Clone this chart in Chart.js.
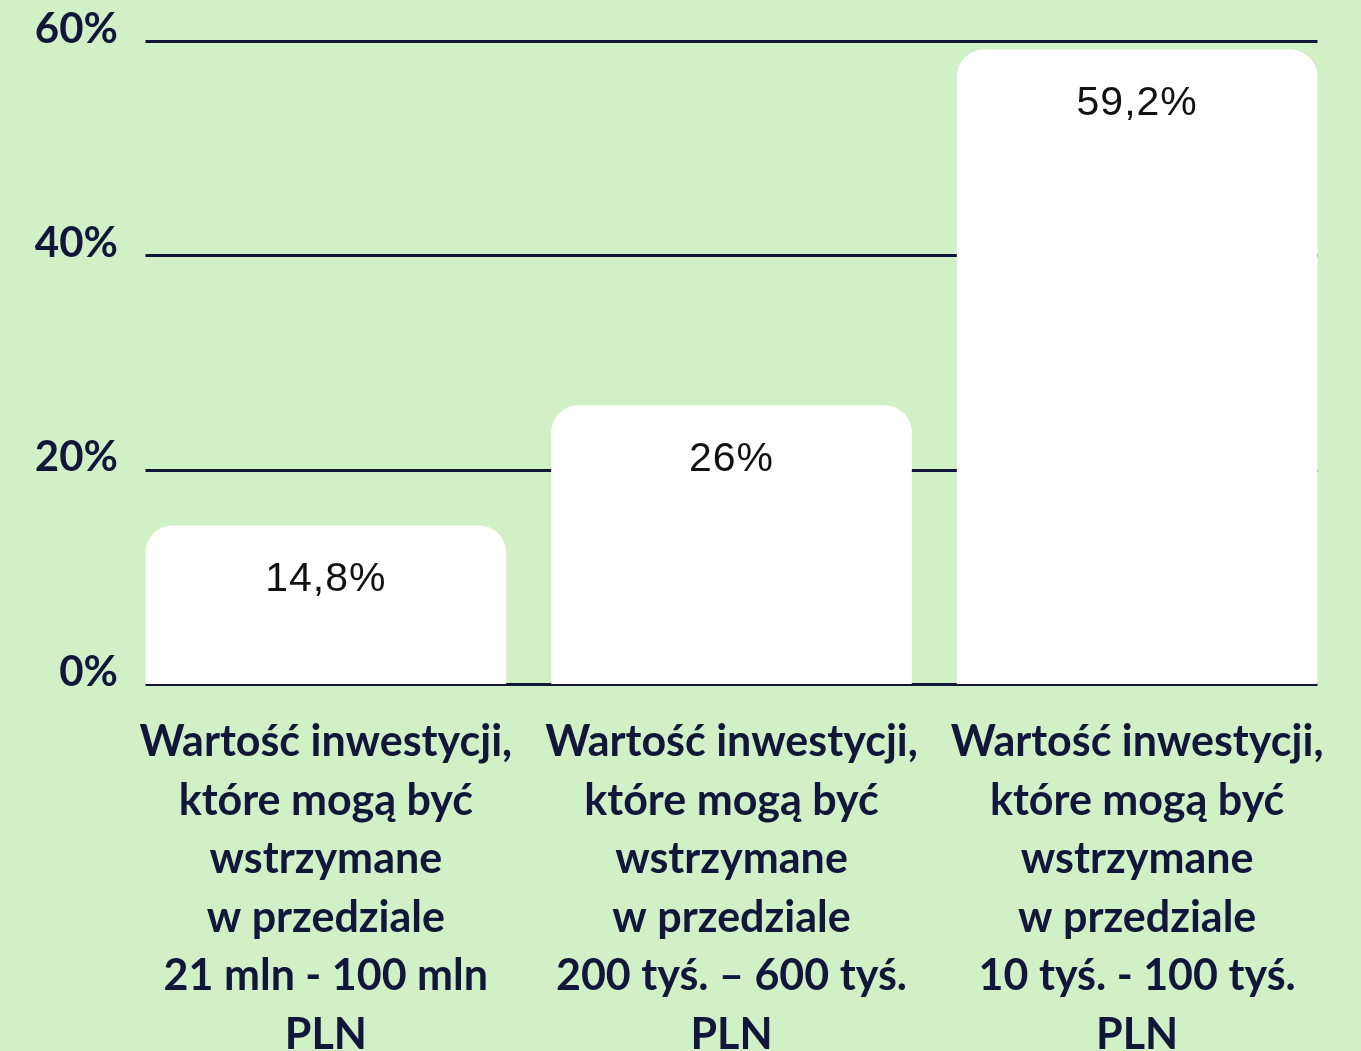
<!DOCTYPE html>
<html>
<head>
<meta charset="utf-8">
<script src="https://cdn.jsdelivr.net/npm/chart.js@4/dist/chart.umd.min.js"></script>
<style>
  html, body { margin: 0; padding: 0; background: #d2f0c6; overflow: hidden; }
  #wrap { width: 1361px; height: 1051px; }
</style>
</head>
<body>
<div id="wrap"><canvas id="wykres"></canvas></div>
<script>
// Dane
const kategorie = [
    ['Wartość inwestycji,', 'które mogą być', 'wstrzymane', 'w przedziale', '21 mln - 100 mln', 'PLN'],
    ['Wartość inwestycji,', 'które mogą być', 'wstrzymane', 'w przedziale', '200 tyś. – 600 tyś.', 'PLN'],
    ['Wartość inwestycji,', 'które mogą być', 'wstrzymane', 'w przedziale', '10 tyś. - 100 tyś.', 'PLN']
];
const wartosci = [14.8, 26, 59.2];
const etykietyWartosci = ['14,8%', '26%', '59,2%'];
const tickiY = [0, 20, 40, 60];

const granat = '#12163a';

// Linie siatki tylko na szerokości słupków (od lewej krawędzi 1. do prawej ostatniego)
const siatkaPlugin = {
    id: 'siatka',
    beforeDatasetsDraw(chart) {
        const ctx = chart.ctx;
        const meta = chart.getDatasetMeta(0);
        const pierwszy = meta.data[0];
        const ostatni = meta.data[meta.data.length - 1];
        const x0 = pierwszy.x - pierwszy.width / 2;
        const x1 = ostatni.x + ostatni.width / 2;
        const y = chart.scales.y;
        ctx.save();
        ctx.strokeStyle = granat;
        ctx.lineWidth = 3;
        tickiY.forEach(t => {
            const py = Math.round(y.getPixelForValue(t)) + 0.5;
            ctx.beginPath();
            ctx.moveTo(x0, py);
            ctx.lineTo(x1, py);
            ctx.stroke();
        });
        ctx.restore();
    }
};

// Etykiety wartości w słupkach
const etykietyPlugin = {
    id: 'etykiety',
    afterDatasetsDraw(chart) {
        const ctx = chart.ctx;
        const meta = chart.getDatasetMeta(0);
        ctx.save();
        ctx.fillStyle = '#111111';
        ctx.font = '41px "Liberation Sans", Arial, sans-serif';
        ctx.letterSpacing = '1px';
        ctx.textAlign = 'center';
        ctx.textBaseline = 'middle';
        meta.data.forEach((bar, i) => {
            ctx.fillText(etykietyWartosci[i], bar.x, bar.y + 54);
        });
        ctx.restore();
    }
};

new Chart(document.getElementById('wykres'), {
    type: 'bar',
    data: {
        labels: kategorie,
        datasets: [{
            data: wartosci,
            backgroundColor: '#ffffff',
            borderRadius: { topLeft: 27, topRight: 27, bottomLeft: 0, bottomRight: 0 },
            borderSkipped: 'bottom',
            categoryPercentage: 1,
            barPercentage: 0.889
        }]
    },
    options: {
        responsive: true,
        maintainAspectRatio: false,
        animation: false,
        layout: { padding: { top: 41, right: 21, left: 0, bottom: 0 } },
        plugins: { legend: { display: false }, tooltip: { enabled: false } },
        scales: {
            x: {
                grid: { display: false },
                border: { display: false },
                ticks: {
                    color: granat,
                    font: { family: 'Lato', weight: 'bold', size: 43, lineHeight: 1.36 },
                    padding: 21,
                    maxRotation: 0,
                    autoSkip: false
                },
                afterFit(scale) { scale.height = 367; }
            },
            y: {
                min: 0,
                max: 60,
                afterBuildTicks(scale) { scale.ticks = tickiY.map(v => ({ value: v })); },
                grid: { display: false, drawTicks: false },
                border: { display: false },
                ticks: {
                    color: granat,
                    font: { family: 'Lato', weight: 'bold', size: 42 },
                    padding: 5,
                    labelOffset: -12,
                    callback: v => v + '%'
                },
                afterFit(scale) { scale.width = 123; }
            }
        }
    },
    plugins: [siatkaPlugin, etykietyPlugin]
});
</script>
</body>
</html>
